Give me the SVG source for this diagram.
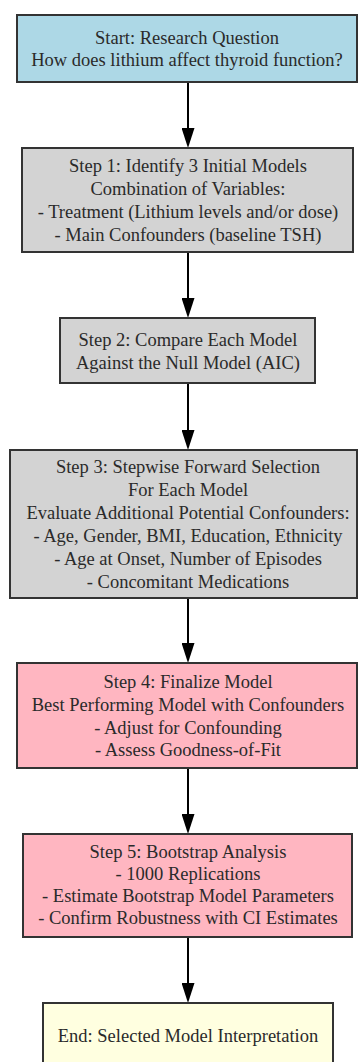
<svg xmlns="http://www.w3.org/2000/svg" width="358" height="1062" viewBox="0 0 358 1062">
<defs>
<style>
.box{stroke:#333;stroke-width:2}
.t{font-family:"Liberation Serif","Times New Roman",serif;font-size:18.5px;fill:#2a2a2a;text-anchor:middle}
.edge{stroke:#000;stroke-width:2;fill:none}
</style>
<marker id="ah" markerWidth="20" markerHeight="13" refX="10" refY="6.5" orient="auto" markerUnits="userSpaceOnUse" viewBox="0 0 20 13">
<path d="M0,0 L20,6.5 L0,13 Z" fill="#000"/>
</marker>
</defs>
<rect width="358" height="1062" fill="#fff"/>
<g id="connectors">
<line class="edge" x1="188" y1="82" x2="188" y2="138" marker-end="url(#ah)"/>
<line class="edge" x1="188" y1="252" x2="188" y2="308" marker-end="url(#ah)"/>
<line class="edge" x1="188" y1="383" x2="188" y2="440" marker-end="url(#ah)"/>
<line class="edge" x1="188" y1="598" x2="188" y2="653" marker-end="url(#ah)"/>
<line class="edge" x1="188" y1="768" x2="188" y2="824" marker-end="url(#ah)"/>
<line class="edge" x1="188" y1="937" x2="188" y2="993" marker-end="url(#ah)"/>
</g>
<g id="start">
<rect class="box" x="17" y="15" width="340" height="67" fill="#add8e6"/>
<text class="t" x="187" y="44">Start: Research Question</text>
<text class="t" x="187" y="66">How does lithium affect thyroid function?</text>
</g>
<g id="step1">
<rect class="box" x="22" y="148" width="331" height="104" fill="#d3d3d3"/>
<text class="t" x="188" y="172">Step 1: Identify 3 Initial Models</text>
<text class="t" x="188" y="195">Combination of Variables:</text>
<text class="t" x="188" y="218">- Treatment (Lithium levels and/or dose)</text>
<text class="t" x="188" y="241">- Main Confounders (baseline TSH)</text>
</g>
<g id="step2">
<rect class="box" x="60" y="318" width="255" height="65" fill="#d3d3d3"/>
<text class="t" x="188" y="346">Step 2: Compare Each Model</text>
<text class="t" x="188" y="369">Against the Null Model (AIC)</text>
</g>
<g id="step3">
<rect class="box" x="10" y="450" width="347" height="148" fill="#d3d3d3"/>
<text class="t" x="188" y="473">Step 3: Stepwise Forward Selection</text>
<text class="t" x="188" y="496">For Each Model</text>
<text class="t" x="188" y="519">Evaluate Additional Potential Confounders:</text>
<text class="t" x="188" y="542">- Age, Gender, BMI, Education, Ethnicity</text>
<text class="t" x="188" y="565">- Age at Onset, Number of Episodes</text>
<text class="t" x="188" y="588">- Concomitant Medications</text>
</g>
<g id="step4">
<rect class="box" x="17" y="663" width="340" height="105" fill="#ffb6c1"/>
<text class="t" x="188" y="688">Step 4: Finalize Model</text>
<text class="t" x="188" y="711">Best Performing Model with Confounders</text>
<text class="t" x="188" y="734">- Adjust for Confounding</text>
<text class="t" x="188" y="756">- Assess Goodness-of-Fit</text>
</g>
<g id="step5">
<rect class="box" x="23" y="834" width="329" height="103" fill="#ffb6c1"/>
<text class="t" x="188" y="858">Step 5: Bootstrap Analysis</text>
<text class="t" x="188" y="880">- 1000 Replications</text>
<text class="t" x="188" y="902">- Estimate Bootstrap Model Parameters</text>
<text class="t" x="188" y="924">- Confirm Robustness with CI Estimates</text>
</g>
<g id="end">
<rect class="box" x="43" y="1003" width="290" height="80" fill="#ffffe0"/>
<text class="t" x="188" y="1042">End: Selected Model Interpretation</text>
</g>
</svg>
